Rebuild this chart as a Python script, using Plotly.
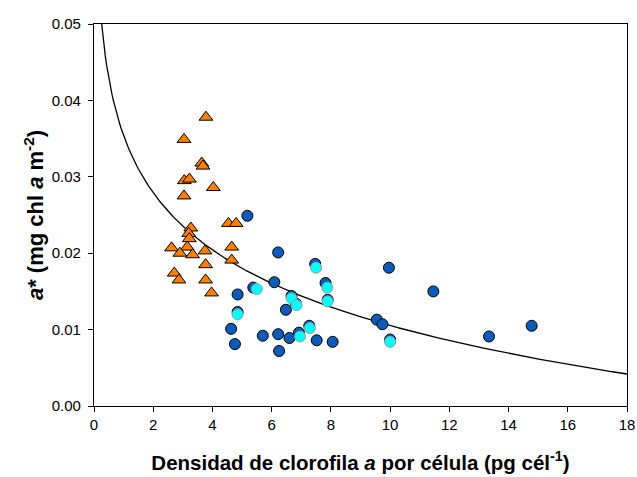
import numpy as np
import plotly.graph_objects as go

# Triangles (orange)
tri_x = [3.78, 3.04, 3.64, 3.68, 3.05, 3.22, 4.03, 3.04, 4.54, 4.80, 3.27, 3.20, 3.22,
         2.62, 3.15, 2.90, 3.33, 3.75, 4.65, 4.65, 3.77, 2.71, 2.87, 3.77, 3.97]
tri_y = [0.0378, 0.0349, 0.0318, 0.0314, 0.0295, 0.0297, 0.0286, 0.0275, 0.0239, 0.0239,
         0.0233, 0.0226, 0.0219, 0.0207, 0.0208, 0.0200, 0.0198, 0.0203, 0.0208, 0.0191,
         0.0185, 0.0174, 0.0165, 0.0165, 0.0148]

# Dark blue circles
blue_x = [5.18, 6.22, 7.47, 6.09, 5.38, 7.82, 4.85, 6.67, 6.82, 7.89, 6.48, 4.85, 4.63,
          7.27, 6.92, 5.70, 6.22, 6.60, 7.52, 8.06, 4.76, 6.25, 9.96, 11.46, 9.55, 9.74,
          10.0, 13.34, 14.78]
blue_y = [0.0249, 0.0201, 0.0186, 0.0162, 0.0155, 0.0161, 0.0146, 0.0144, 0.0134, 0.0139,
          0.0126, 0.0123, 0.0101, 0.0105, 0.0096, 0.0092, 0.0094, 0.0089, 0.0086, 0.0084,
          0.0081, 0.0072, 0.0181, 0.0150, 0.0113, 0.0107, 0.0087, 0.0091, 0.0105]

# Cyan circles
cyan_x = [7.50, 5.50, 7.88, 6.67, 6.84, 7.89, 4.85, 7.29, 6.96, 10.0]
cyan_y = [0.0181, 0.0153, 0.0155, 0.0141, 0.0132, 0.0137, 0.0120, 0.0102, 0.0091, 0.0084]

# Fitted curve: y = fit_a + fit_b * ln(x)
fit_a = 0.0354
fit_b = -0.0108
curve_x = np.linspace(0.25, 18, 400)
curve_y = fit_a + fit_b * np.log(curve_x)

x_ticks = [0, 2, 4, 6, 8, 10, 12, 14, 16, 18]
y_ticks = [0.00, 0.01, 0.02, 0.03, 0.04, 0.05]

FONT = "Liberation Sans, Arial"

fig = go.Figure()
fig.add_trace(go.Scatter(x=curve_x, y=curve_y, mode="lines",
                         line=dict(color="black", width=1.3), hoverinfo="skip"))
fig.add_trace(go.Scatter(x=tri_x, y=tri_y, mode="markers",
                         marker=dict(symbol="triangle-up", size=12, color="#ff8000",
                                     line=dict(color="black", width=1))))
fig.add_trace(go.Scatter(x=blue_x, y=blue_y, mode="markers",
                         marker=dict(symbol="circle", size=11, color="#0a5cb8",
                                     line=dict(color="black", width=1))))
fig.add_trace(go.Scatter(x=cyan_x, y=cyan_y, mode="markers",
                         marker=dict(symbol="circle", size=11, color="#00ffff",
                                     line=dict(color="#999999", width=1))))

axis_common = dict(showline=True, linecolor="black", linewidth=1.3, mirror=True,
                   ticks="outside", ticklen=5, tickcolor="black", tickwidth=1,
                   showgrid=False, zeroline=False, automargin=False,
                   tickfont=dict(family=FONT, size=15, color="black"))

fig.update_layout(
    width=637, height=477,
    margin=dict(l=94, r=10, t=24, b=71),
    paper_bgcolor="white", plot_bgcolor="white",
    showlegend=False,
    font=dict(family=FONT, color="black"),
    xaxis=dict(range=[0, 18], tickvals=x_ticks,
               title=dict(text="<b>Densidad de clorofila <i>a</i> por célula (pg cél<sup>-1</sup>)</b>",
                          font=dict(size=20.5, family=FONT), standoff=23),
               **axis_common),
    yaxis=dict(range=[0, 0.05], tickvals=y_ticks, tickformat=".2f", ticklabelstandoff=4,
               title=dict(text="<b><i>a</i>* (mg chl <i>a</i> m<sup>-2</sup>)</b>",
                          font=dict(size=22, family=FONT), standoff=1),
               **axis_common),
)

fig.write_html("out.html")
